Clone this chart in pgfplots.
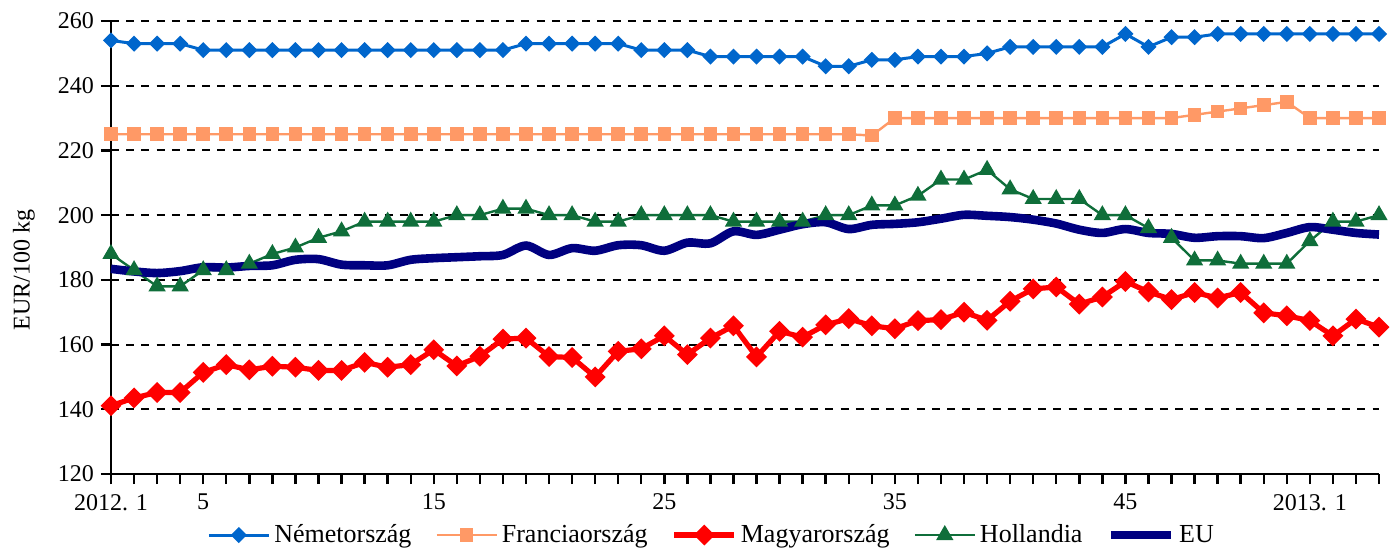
\documentclass[border=0pt]{standalone}
\usepackage{fontspec}
\setmainfont{Liberation Serif}
\usepackage{pgfplots}
\usepackage{pgfplotstable}
\pgfplotsset{compat=1.18}
\definecolor{cde}{HTML}{0066CC}
\definecolor{cfr}{HTML}{FF9966}
\definecolor{chu}{HTML}{FF0000}
\definecolor{cnl}{HTML}{0F6E3A}
\definecolor{ceu}{HTML}{000080}

\pgfplotstableread{
x de fr hu nl eu
0 254 225 141.1 188 183.4
1 253 225 143.5 183 182.6
2 253 225 145.2 178 182.1
3 253 225 145.2 178 182.7
4 251 225 151.4 183 183.9
5 251 225 153.8 183 183.8
6 251 225 152.2 185 184.3
7 251 225 153.3 188 184.5
8 251 225 153.0 190 186.2
9 251 225 152.0 193 186.4
10 251 225 152.0 195 184.7
11 251 225 154.5 198 184.5
12 251 225 153.0 198 184.5
13 251 225 153.8 198 186.2
14 251 225 158.4 198 186.7
15 251 225 153.4 200 187.0
16 251 225 156.4 200 187.3
17 251 225 161.7 202 187.7
18 253 225 162.0 202 190.6
19 253 225 156.3 200 187.7
20 253 225 156.0 200 189.8
21 253 225 150.0 198 189.0
22 253 225 157.9 198 190.7
23 251 225 158.7 200 190.7
24 251 225 162.7 200 189.0
25 251 225 156.9 200 191.5
26 249 225 162.0 200 191.3
27 249 225 165.8 198 195.0
28 249 225 156.2 198 193.9
29 249 225 164.1 198 195.5
30 249 225 162.3 198 197.2
31 246 225 166.1 200 197.8
32 246 225 168.0 200 195.7
33 248 224.6 165.8 203 197.0
34 248 230 164.9 203 197.3
35 249 230 167.4 206 197.8
36 249 230 167.7 211 198.9
37 249 230 170.0 211 200.1
38 250 230 167.5 214 199.8
39 252 230 173.4 208 199.4
40 252 230 177.2 205 198.6
41 252 230 177.8 205 197.4
42 252 230 172.5 205 195.5
43 252 230 174.7 200 194.5
44 256 230 179.5 200 195.7
45 252 230 176.3 196 194.5
46 255 230 173.9 193 194.2
47 255 231 176.1 186 193.0
48 256 232 174.4 186 193.5
49 256 233 176.1 185 193.5
50 256 234 169.8 185 192.9
51 256 235 168.9 185 194.5
52 256 230 167.4 192 196.3
53 256 230 162.7 198 195.5
54 256 230 167.9 198 194.5
55 256 230 165.4 200 194.0
}\datatable

\begin{document}
\begin{tikzpicture}
\useasboundingbox (0,0) rectangle (696pt,276pt);
\begin{axis}[
  at={(55.5pt,39pt)}, anchor=south west,
  scale only axis, width=634pt, height=226.5pt,
  xmin=0, xmax=55, ymin=120, ymax=260,
  axis x line=bottom, axis y line=left,
  axis line style={-, line width=1.3pt, black},
  xtick={0,4,14,24,34,44,52},
  xticklabels={2012. 1,5,15,25,35,45,2013. 1},
  minor xtick={0,...,55},
  ytick={120,140,...,260},
  tick align=outside,
  major tick length=5pt, minor tick length=5pt,
  every tick/.style={line width=1.2pt, black},
  minor tick style={line width=1.2pt, black},
  ymajorgrids,
  grid style={black, line width=1pt, dash pattern=on 4pt off 3.6pt},
  /pgf/number format/assume math mode=true,
  tick label style={font=\fontsize{12}{14}\selectfont},
  xticklabel style={yshift=-1.5pt},
  ylabel={EUR/100 kg},
  ylabel style={font=\fontsize{12}{14}\selectfont, at={(axis description cs:-0.0686,0.45)}, anchor=center, rotate=0},
  legend columns=5,
  legend style={draw=none, fill=none, at={(axis description cs:0.4744,-0.1347)}, anchor=center,
    font=\fontsize{13}{15}\selectfont, inner sep=0pt,
    /tikz/every even column/.append style={column sep=10pt}},
  legend image code/.code={\draw[mark repeat=2,mark phase=2] plot coordinates {(0pt,0pt) (15pt,0pt) (30pt,0pt)};},
  clip=false,
]
\addplot[cde, line width=1.5pt, mark=square*, mark size=2.1pt, mark options={rotate=45, solid}] table[x=x,y=de] {\datatable};
\addlegendentry{Németország}
\addplot[cfr, line width=1.2pt, mark=square*, mark size=2.8pt, mark options={solid}] table[x=x,y=fr] {\datatable};
\addlegendentry{Franciaország}
\addplot[chu, line width=2.6pt, mark=square*, mark size=2.4pt, mark options={rotate=45, solid}] table[x=x,y=hu] {\datatable};
\addlegendentry{Magyarország}
\addplot[cnl, line width=1.2pt, mark=triangle*, mark size=3.8pt, mark options={solid}] table[x=x,y=nl] {\datatable};
\addlegendentry{Hollandia}
\addplot[ceu, line width=4.3pt, smooth, no marks] table[x=x,y=eu] {\datatable};
\addlegendentry{EU}
\end{axis}
\end{tikzpicture}
\end{document}
